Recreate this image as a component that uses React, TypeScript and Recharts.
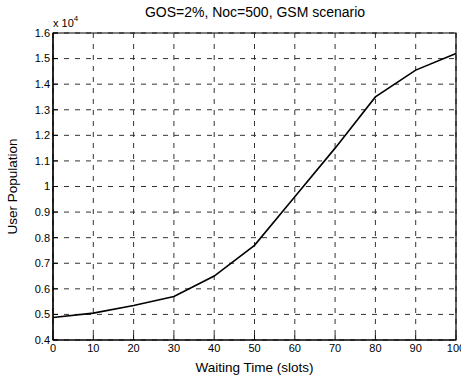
import React from "react";
import { CartesianGrid, Line, LineChart, XAxis, YAxis, Label, ReferenceArea } from "recharts";

const waitingTimes = [0, 10, 20, 30, 40, 50, 60, 70, 80, 90, 100];
// user population, in units of 10^4
const userPopulation = [0.488, 0.505, 0.535, 0.57, 0.65, 0.77, 0.96, 1.15, 1.35, 1.455, 1.52];
const xTicks = [0, 10, 20, 30, 40, 50, 60, 70, 80, 90, 100];
const yTicks = [0.4, 0.5, 0.6, 0.7, 0.8, 0.9, 1, 1.1, 1.2, 1.3, 1.4, 1.5, 1.6];

const data = waitingTimes.map((t, i) => ({ t, users: userPopulation[i] }));

const font = "'Liberation Sans', Arial, sans-serif";
const tickStyle = { fill: "#000", fontSize: 11, fontFamily: font };

export default function App() {
    return (
        <div style={{ position: "fixed", left: 0, top: 0, width: 461, height: 375, background: "#fff", overflow: "hidden" }}>
            <LineChart width={461} height={375} data={data} margin={{ top: 33, right: 5, left: 0, bottom: 0 }}>
                <CartesianGrid xAxisId="main" yAxisId="main" stroke="#333" strokeDasharray="5 6" horizontal vertical />
                <XAxis
                    xAxisId="main"
                    dataKey="t"
                    type="number"
                    domain={[0, 100]}
                    ticks={xTicks}
                    interval={0}
                    tick={tickStyle}
                    tickSize={-5}
                    tickMargin={9}
                    height={35}
                    stroke="#000"
                    axisLine={{ stroke: "#000", strokeWidth: 1.2 }}
                >
                    <Label value="Waiting Time (slots)" position="insideBottom" offset={3} style={{ fill: "#000", fontSize: 13.5, fontFamily: font }} />
                </XAxis>
                <XAxis xAxisId="top" orientation="top" type="number" domain={[0, 100]} ticks={xTicks} tick={false} tickSize={-5} height={0} stroke="#000" />
                <YAxis
                    yAxisId="main"
                    type="number"
                    domain={[0.4, 1.6]}
                    ticks={yTicks}
                    interval={0}
                    tickFormatter={(v: number) => String(Number(v.toFixed(1)))}
                    tick={tickStyle}
                    tickSize={-5}
                    tickMargin={8}
                    width={53}
                    stroke="#000"
                    axisLine={{ stroke: "#000", strokeWidth: 1.2 }}
                >
                    <Label value="User Population" angle={-90} position="insideLeft" offset={12} style={{ fill: "#000", fontSize: 13.5, fontFamily: font, textAnchor: "middle" }} />
                </YAxis>
                <YAxis yAxisId="right" orientation="right" type="number" domain={[0.4, 1.6]} ticks={yTicks} tick={false} tickSize={-5} width={0} stroke="#000" />
                <ReferenceArea
                    xAxisId="main"
                    yAxisId="main"
                    x1={0}
                    x2={100}
                    y1={0.4}
                    y2={1.6}
                    fill="none"
                    fillOpacity={0}
                    stroke="#000"
                    strokeWidth={1.2}
                    ifOverflow="visible"
                />
                <Line
                    xAxisId="main"
                    yAxisId="main"
                    type="linear"
                    dataKey="users"
                    stroke="#000"
                    strokeWidth={1.6}
                    dot={false}
                    isAnimationActive={false}
                />
                <text x={255} y={17} textAnchor="middle" style={{ fontSize: 14, fontFamily: font, fill: "#000" }}>
                    GOS=2%, Noc=500, GSM scenario
                </text>
                <text x={53} y={27} style={{ fontSize: 11, fontFamily: font, fill: "#000" }}>
                    x 10<tspan dy={-6} fontSize={8}>4</tspan>
                </text>
            </LineChart>
        </div>
    );
}
